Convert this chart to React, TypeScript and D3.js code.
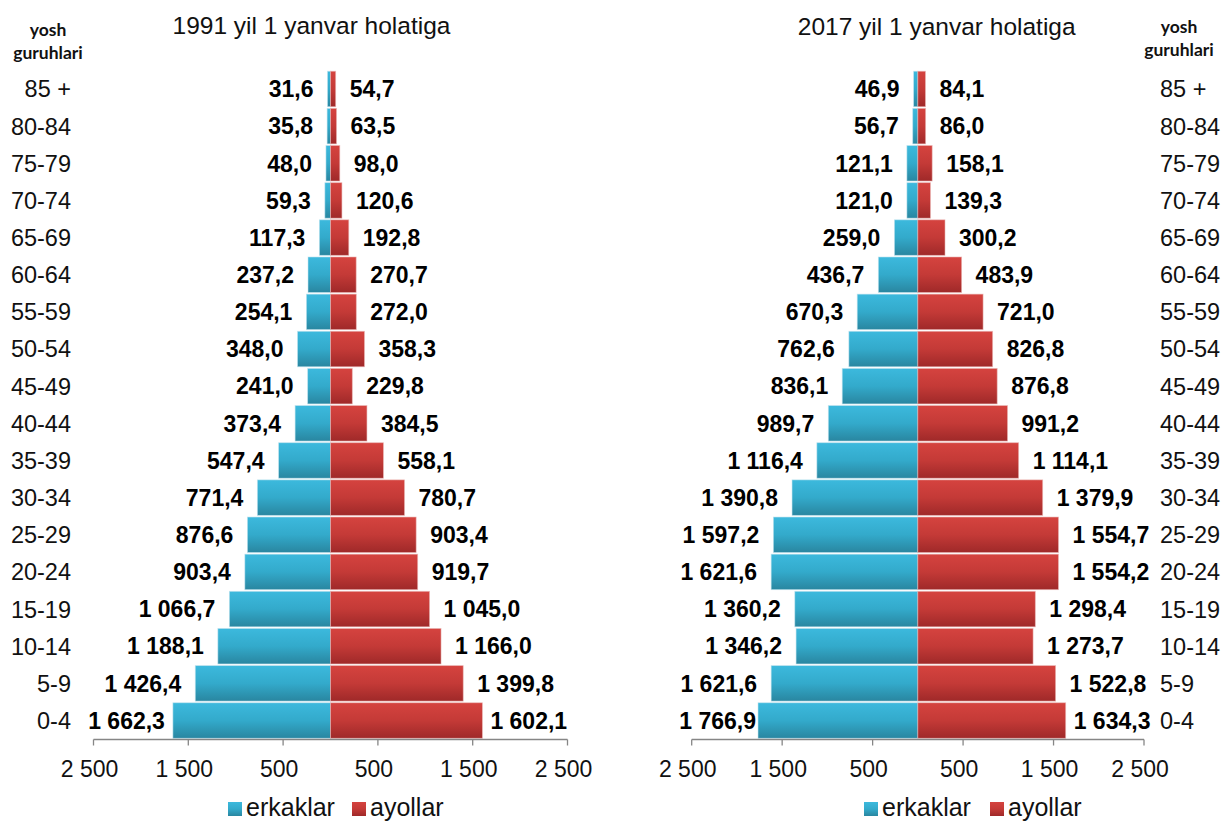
import * as d3 from "d3";
import React from "react";

// age groups, top to bottom
const ages = ["85 +", "80-84", "75-79", "70-74", "65-69", "60-64", "55-59", "50-54", "45-49", "40-44", "35-39", "30-34", "25-29", "20-24", "15-19", "10-14", "5-9", "0-4"];

// 1991 (thousand persons)
const men1991 = [31.6, 35.8, 48.0, 59.3, 117.3, 237.2, 254.1, 348.0, 241.0, 373.4, 547.4, 771.4, 876.6, 903.4, 1066.7, 1188.1, 1426.4, 1662.3];
const women1991 = [54.7, 63.5, 98.0, 120.6, 192.8, 270.7, 272.0, 358.3, 229.8, 384.5, 558.1, 780.7, 903.4, 919.7, 1045.0, 1166.0, 1399.8, 1602.1];

// 2017
const men2017 = [46.9, 56.7, 121.1, 121.0, 259.0, 436.7, 670.3, 762.6, 836.1, 989.7, 1116.4, 1390.8, 1597.2, 1621.6, 1360.2, 1346.2, 1621.6, 1766.9];
const women2017 = [84.1, 86.0, 158.1, 139.3, 300.2, 483.9, 721.0, 826.8, 876.8, 991.2, 1114.1, 1379.9, 1554.7, 1554.2, 1298.4, 1273.7, 1522.8, 1634.3];

const tickValues = [-2500, -1500, -500, 500, 1500, 2500];
const legendLabels = ["erkaklar", "ayollar"];
const headerLines = ["yosh", "guruhlari"];

const locale = d3.formatLocale({ decimal: ",", thousands: " ", grouping: [3], currency: ["", ""] });
const fmtVal = locale.format(",.1f");
const fmtTick = locale.format(",d");

const FONT = "'Liberation Sans', Arial, sans-serif";
const AXIS = "#868686";

const Pyramid = (props) => {
  const { x0, x1, title, titleX, titleY, men, women, labelSide, labelX, headerX, headerY, bottomGaps, legendX } = props;

  const x = d3.scaleLinear().domain([-2500, 2500]).range([x0, x1]);
  const y = d3.scaleBand().domain(ages).range([70.5, 739]).paddingInner(0.045).paddingOuter(0.02);
  const axisY = 739.5;
  const gap = 14;
  const last = ages.length - 1;

  return (
    <g>
      <text x={titleX} y={titleY} textAnchor="middle" fontSize={24.5} fontFamily={FONT} fill="#111">{title}</text>

      {headerLines.map((t, i) => (
        <text key={t} x={headerX} y={headerY + i * 23} textAnchor="middle" fontSize={17.5} fontWeight="bold" fontFamily="Lato, 'Open Sans', sans-serif" fill="#111">{t}</text>
      ))}

      {/* bars */}
      {ages.map((a, i) => (
        <g key={a}>
          <rect x={x(-men[i])} y={y(a)} width={x(0) - x(-men[i])} height={y.bandwidth()}
            fill="url(#gradBlue)" stroke="#bfe3ee" strokeOpacity={0.7} strokeWidth={0.8} />
          <rect x={x(0)} y={y(a)} width={x(women[i]) - x(0)} height={y.bandwidth()}
            fill="url(#gradRed)" stroke="#e9b5b4" strokeOpacity={0.7} strokeWidth={0.8} />
        </g>
      ))}

      {/* value labels */}
      {ages.map((a, i) => {
        const cy = y(a) + y.bandwidth() / 2;
        const gl = i === last ? bottomGaps[0] : gap;
        const gr = i === last ? bottomGaps[1] : gap;
        return (
          <g key={"v" + a} fontFamily={FONT} fontWeight="bold" fontSize={23} fill="#000">
            <text x={x(-men[i]) - gl} y={cy} dy="0.36em" textAnchor="end">{fmtVal(men[i])}</text>
            <text x={x(women[i]) + gr} y={cy} dy="0.36em" textAnchor="start">{fmtVal(women[i])}</text>
          </g>
        );
      })}

      {/* age labels */}
      {ages.map((a) => (
        <text key={"a" + a} x={labelX} y={y(a) + y.bandwidth() / 2} dy="0.36em"
          textAnchor={labelSide === "left" ? "end" : "start"} fontSize={23.5} fontFamily={FONT} fill="#111">{a}</text>
      ))}

      {/* axis */}
      <line x1={x(-2500)} x2={x(2500)} y1={axisY} y2={axisY} stroke={AXIS} strokeWidth={1.3} />
      {tickValues.map((t) => (
        <g key={"t" + t}>
          <line x1={x(t)} x2={x(t)} y1={axisY} y2={axisY + 6} stroke={AXIS} strokeWidth={1.3} />
          <text x={x(t) - 4} y={777} textAnchor="middle" fontSize={23} fontFamily={FONT} fill="#111">{fmtTick(Math.abs(t))}</text>
        </g>
      ))}

      {/* legend */}
      <g fontFamily={FONT} fontSize={25} fill="#111">
        <rect x={legendX[0]} y={802} width={14} height={14} fill="url(#gradBlue)" />
        <text x={legendX[0] + 18} y={816}>{legendLabels[0]}</text>
        <rect x={legendX[1]} y={802} width={14} height={14} fill="url(#gradRed)" />
        <text x={legendX[1] + 18} y={816}>{legendLabels[1]}</text>
      </g>
    </g>
  );
};

export default function App() {
  return (
    <svg width={1232} height={823} style={{ position: "absolute", left: 0, top: 0, background: "#fff" }}>
      <defs>
        <linearGradient id="gradBlue" x1="0" y1="0" x2="0" y2="1">
          <stop offset="0" stopColor="#3cb9dd" />
          <stop offset="0.5" stopColor="#33aacb" />
          <stop offset="1" stopColor="#2986a0" />
        </linearGradient>
        <linearGradient id="gradRed" x1="0" y1="0" x2="0" y2="1">
          <stop offset="0" stopColor="#d5433f" />
          <stop offset="0.5" stopColor="#c43a37" />
          <stop offset="1" stopColor="#9f2929" />
        </linearGradient>
      </defs>
      <rect width={1232} height={823} fill="#fff" />
      <Pyramid x0={93.5} x1={567.5} title="1991 yil 1 yanvar holatiga" titleX={311.5} titleY={34}
        men={men1991} women={women1991} labelSide="left" labelX={71}
        headerX={48} headerY={36} bottomGaps={[8, 8]} legendX={[228, 352]} />
      <Pyramid x0={691.7} x1={1144} title="2017 yil 1 yanvar holatiga" titleX={936.7} titleY={35}
        men={men2017} women={women2017} labelSide="right" labelX={1160}
        headerX={1179} headerY={33} bottomGaps={[2, 8]} legendX={[864, 990]} />
    </svg>
  );
}
